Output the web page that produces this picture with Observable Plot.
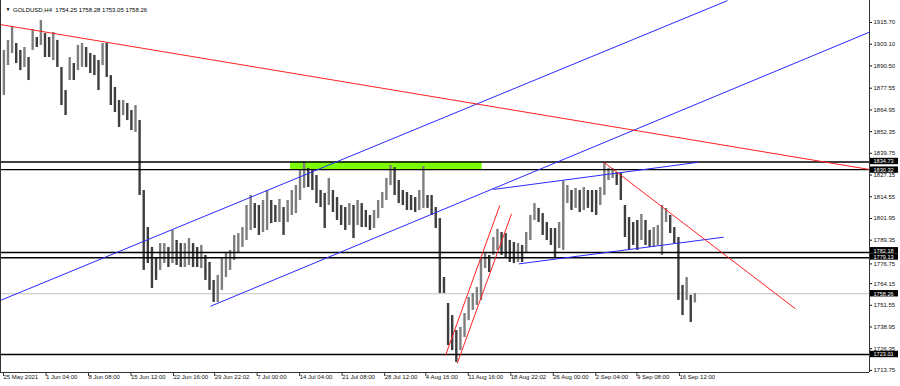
<!DOCTYPE html>
<html><head><meta charset="utf-8">
<script src="https://cdn.jsdelivr.net/npm/d3@7"></script>
<script src="https://cdn.jsdelivr.net/npm/@observablehq/plot@0.6"></script>
<style>html,body{margin:0;padding:0;background:#fff;} #chart svg{display:block}</style>
</head><body><div id="chart"></div>
<script>
// Each entry = one group of 3 consecutive H4 bars (high / low of the group)
const highs = [
1899.5,1905.3,1913.4,1903.5,1899.5,1901.2,1895.4,1911.6,1907.0,1916.9,
1909.3,1907.0,1909.9,1905.3,1889.6,1876.2,1895.4,1891.9,1902.4,1903.5,
1901.2,1897.7,1896.6,1893.6,1903.5,1903.5,1884.9,1878.0,1870.4,1870.4,
1868.7,1864.6,1867.5,1858.8,1818.2,1796.7,1785.1,1778.7,1787.4,1787.4,
1785.1,1795.0,1789.2,1787.4,1787.4,1790.3,1787.4,1785.1,1786.3,1780.5,
1776.4,1766.0,1768.9,1778.7,1781.6,1783.4,1792.1,1793.2,1796.7,1809.5,
1815.3,1810.6,1809.5,1812.4,1818.2,1812.4,1809.5,1813.0,1808.3,1812.4,
1818.2,1821.1,1829.8,1834.5,1831.0,1829.8,1826.9,1818.2,1816.5,1825.2,
1818.2,1814.1,1809.5,1808.3,1810.6,1809.5,1812.4,1810.6,1806.6,1803.7,
1806.6,1812.4,1817.0,1825.2,1832.7,1831.5,1824.0,1818.2,1817.0,1815.3,
1814.1,1818.2,1832.1,1815.3,1815.3,1808.3,1801.9,1767.7,1752.6,1745.6,
1736.9,1738.7,1746.8,1756.1,1758.4,1761.9,1779.3,1781.6,1780.5,1790.9,
1795.6,1793.8,1793.2,1789.2,1788.0,1787.4,1786.3,1793.8,1803.7,1810.6,
1807.8,1804.8,1799.6,1796.1,1796.1,1799.6,1823.4,1821.1,1818.2,1819.4,
1818.2,1819.9,1818.2,1818.2,1818.2,1819.9,1834.5,1831.0,1831.0,1828.6,
1828.1,1809.5,1802.5,1799.6,1800.8,1804.3,1800.8,1795.0,1796.7,1797.9,
1809.5,1807.8,1803.7,1796.7,1790.9,1763.1,1767.7,1757.3,1758.3
];
const lows = [
1873.3,1890.7,1897.7,1891.9,1887.8,1889.6,1882.0,1899.5,1901.2,1902.4,
1895.4,1895.4,1893.6,1889.6,1867.5,1861.7,1882.0,1882.0,1887.8,1889.6,
1889.6,1886.1,1884.9,1876.2,1890.7,1883.8,1867.5,1863.5,1854.8,1861.7,
1858.8,1853.0,1851.9,1815.3,1771.8,1775.8,1761.3,1766.0,1771.8,1775.8,
1773.5,1775.8,1774.7,1773.5,1773.5,1774.7,1773.5,1773.5,1772.9,1766.0,
1760.2,1753.2,1753.2,1760.2,1767.7,1771.8,1777.6,1781.6,1785.1,1789.2,
1795.0,1796.1,1792.1,1793.8,1795.0,1799.0,1799.6,1799.6,1792.1,1799.6,
1803.7,1804.8,1812.4,1819.4,1819.9,1818.2,1810.6,1808.3,1796.1,1809.5,
1805.4,1800.8,1797.9,1795.0,1797.9,1790.3,1797.9,1796.7,1796.7,1795.0,
1796.1,1801.9,1807.8,1812.4,1821.1,1815.3,1810.6,1809.5,1806.6,1806.6,
1805.4,1806.6,1807.8,1807.8,1803.7,1796.1,1758.4,1758.4,1728.2,1725.3,
1718.4,1725.3,1732.9,1742.7,1748.6,1751.5,1754.4,1772.9,1770.6,1780.5,
1783.4,1780.5,1778.7,1776.4,1775.8,1776.4,1776.4,1782.2,1789.2,1800.8,
1799.6,1792.1,1789.2,1786.3,1779.3,1784.5,1783.4,1810.6,1806.6,1807.8,
1805.4,1806.6,1807.8,1805.4,1803.7,1809.5,1815.3,1824.0,1825.2,1821.1,
1812.4,1790.9,1783.4,1786.3,1783.4,1789.2,1786.3,1785.1,1785.1,1786.3,
1780.5,1799.6,1793.2,1787.4,1754.4,1745.6,1754.4,1741.6,1753.0
];

// date axis: bar index of each label and its text
const tickBars = [0,31,62,93,124,154,185,216,247,278,308,339,370,401,432,462,493];
const dateLabels = ["25 May 2021","1 Jun 04:00","8 Jun 08:00","15 Jun 12:00","22 Jun 16:00","29 Jun 22:02","7 Jul 00:00","14 Jul 04:00","21 Jul 08:00","28 Jul 12:00","4 Aug 16:00","11 Aug 16:00","18 Aug 22:02","26 Aug 00:00","2 Sep 04:00","9 Sep 08:00","16 Sep 12:00"];

// price axis ticks (1776.75 sits partly under a level box and is nudged down)
const priceTicks = [1915.70,1903.10,1890.50,1877.55,1864.95,1852.35,1839.75,1827.15,1814.55,1801.95,1789.35,1764.15,1751.55,1738.95,1726.35,1713.75];
const nudgedTicks = [1776.75];

// horizontal levels
const levels = [1834.73, 1830.32, 1782.18, 1779.13, 1723.01];
const currentPrice = 1758.26;
// vertical nudge (px) of each price-label box so stacked boxes do not overlap
const labelNudge = [-0.5, 0.5, -1.8, -0.8, 0, 0];

// zone (bar range, price range)
const zone = [{x1: 210.1, x2: 349.9, y1: 1830.32, y2: 1834.73}];

// trend lines (bar index, price)
const blueLines = [
  {x1: -1.46, y1: 1754.4, x2: 528.8, y2: 1928.4},
  {x1: 151.7, y1: 1751.0, x2: 632.38, y2: 1910.1},
  {x1: 358.1, y1: 1818.8, x2: 507.9, y2: 1834.6},
  {x1: 376.6, y1: 1775.6, x2: 526.1, y2: 1791.1}
];
const redLines = [
  {x1: -1.46, y1: 1914.5, x2: 632.38, y2: 1830.4},
  {x1: 438.6, y1: 1834.6, x2: 578.4, y2: 1749.5},
  {x1: 323.1, y1: 1722.4, x2: 362.7, y2: 1809.5},
  {x1: 331.7, y1: 1717.9, x2: 371.3, y2: 1804.7}
];

const titleText = "GOLDUSD,H4  1754.25 1758.28 1753.05 1758.26";

const xDomain = [-1.459, 632.38];
const yDomain = [1712.56, 1928.47];

const bars = highs.map((h, i) => {
  const mid = (h + lows[i]) / 2;
  const prev = i > 0 ? (highs[i-1] + lows[i-1]) / 2 : mid;
  return {bar: 3 * i + 1, high: h, low: lows[i], up: mid >= prev};
});
const labelByBar = new Map(tickBars.map((b, i) => [b, dateLabels[i]]));
const boxes = levels.concat([currentPrice]).map((v, i) => ({v, nudge: labelNudge[i]}));
const nudges = [...new Set(labelNudge)];

const labelMarks = nudges.flatMap(n => {
  const sub = boxes.filter(b => b.nudge === n);
  return [
    Plot.rect(sub, {x1: () => xDomain[1], x2: () => xDomain[1], y1: "v", y2: "v", dy: n, insetLeft: 1, insetRight: -29, insetTop: -3.2, insetBottom: -3.2, fill: "black", clip: false}),
    Plot.text(sub, {x: () => xDomain[1], y: "v", dy: n, dx: 4, text: d => d.v.toFixed(2), textAnchor: "start", fill: "white", fontSize: 5.6})
  ];
});

const chart = Plot.plot({
  width: 900, height: 386,
  marginLeft: 0, marginRight: 31, marginTop: 0, marginBottom: 14,
  x: {domain: xDomain},
  y: {domain: yDomain},
  style: {background: "white", fontFamily: "'Liberation Sans', Arial, sans-serif", fontSize: "6px", color: "#111"},
  marks: [
    Plot.rect(zone, {x1: "x1", x2: "x2", y1: "y1", y2: "y2", fill: "#7cfc00"}),
    Plot.ruleY([currentPrice], {stroke: "#c0c0c0", strokeWidth: 1}),
    Plot.ruleX(bars, {x: "bar", y1: "low", y2: "high", stroke: d => d.up ? "#7e7e7e" : "#3e3e3e", strokeWidth: 2.4}),
    Plot.ruleY(levels, {stroke: "black", strokeWidth: 1.4}),
    Plot.link(blueLines, {x1: "x1", y1: "y1", x2: "x2", y2: "y2", stroke: "#2a2aff", strokeWidth: 1, clip: true}),
    Plot.link(redLines, {x1: "x1", y1: "y1", x2: "x2", y2: "y2", stroke: "#ff2020", strokeWidth: 1, clip: true}),
    Plot.ruleY([yDomain[0]], {stroke: "#333"}),
    Plot.ruleX([xDomain[0], xDomain[1]], {stroke: "#333"}),
    Plot.axisX({ticks: tickBars, tickFormat: d => labelByBar.get(d), tickSize: 4, tickPadding: -2, textAnchor: "start", dx: 1, fontSize: 6, label: null, stroke: "#333"}),
    Plot.axisY({anchor: "right", ticks: priceTicks, tickFormat: d => d.toFixed(2), tickSize: 2, tickPadding: 2, fontSize: 6, label: null}),
    Plot.axisY({anchor: "right", ticks: nudgedTicks, tickFormat: d => d.toFixed(2), tickSize: 2, tickPadding: 2, fontSize: 6, label: null, dy: 2}),
    ...labelMarks,
    Plot.text(["\u25BC"], {frameAnchor: "top-left", dx: 5, dy: 7, fontSize: 5, fill: "black"}),
    Plot.text([titleText], {frameAnchor: "top-left", dx: 12.5, dy: 7, textAnchor: "start", fontSize: 6, fill: "black"})
  ]
});
document.getElementById("chart").appendChild(chart);
</script></body></html>
